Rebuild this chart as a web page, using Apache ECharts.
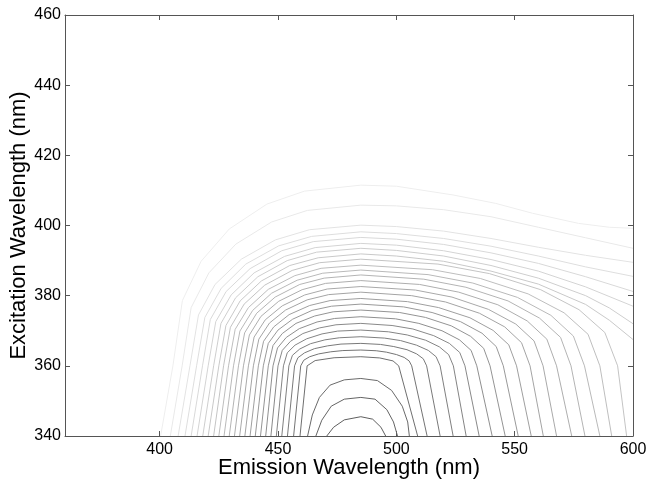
<!DOCTYPE html>
<html><head><meta charset="utf-8">
<script src="https://cdn.jsdelivr.net/npm/echarts@6/dist/echarts.min.js"></script>
<style>html,body{margin:0;padding:0;background:#fff}#c{width:648px;height:485px}</style>
</head><body><div id="c"></div>
<script>
// Axis ticks
const xTicks = [400, 450, 500, 550, 600];
const yTicks = [340, 360, 380, 400, 420, 440, 460];

// Contour lines [emission nm, excitation nm], innermost (highest level) first
const contour01 = [[470.6,340],[473.5,342.5],[478,344.6],[485,345.5],[490,344.8],[493.5,342.5],[495.5,340]];
const contour02 = [[466,340],[468.5,344.5],[472.5,348.5],[478,350.5],[485,351],[491,350.5],[496,347.5],[498.8,344],[500.5,340]];
const contour03 = [[462.5,340],[464.5,346],[467.5,351],[472,354.5],[478,356],[485,356.4],[492,355.8],[498,353],[502.5,348.5],[504.8,344],[505.5,340]];
const contour04 = [[459.3,340],[462.3,360],[465.7,361.5],[473.7,362.3],[485,362.6],[493,362.25],[498.6,361.4],[501,360],[509,340]];
const contour05 = [[456.6,340],[459.6,360],[460.9,361.6],[463.4,362.6],[467.2,363.4],[472.3,364.0],[477.4,364.35],[485,364.5],[491.5,364.3],[495.8,363.9],[500.1,363.2],[503.3,362.4],[505.4,361.4],[506.5,360],[513,340]];
const contour06 = [[454.0,340],[457.0,360],[458.4,362.3],[461.2,363.7],[465.4,364.9],[471,365.7],[476.6,366.2],[485,366.4],[493.3,366.1],[498.9,365.5],[504.5,364.6],[508.6,363.4],[511.4,362.0],[512.8,360],[518.5,340]];
const contour07 = [[451.6,340],[454.6,360],[456.1,363.0],[459.2,364.8],[463.7,366.3],[469.8,367.4],[475.9,368.0],[485,368.3],[495.1,367.9],[501.8,367.2],[508.5,365.9],[513.5,364.4],[516.8,362.6],[518.5,360],[524,340]];
const contour08 = [[449.3,340],[452.3,360],[453.9,363.7],[457.2,365.9],[462.1,367.7],[468.6,369.1],[475.2,369.9],[485,370.2],[496.7,369.7],[504.6,368.8],[512.4,367.3],[518.2,365.4],[522.1,363.2],[524.1,360],[529.5,340]];
const contour09 = [[447.0,340],[450.0,360],[451.8,364.4],[455.3,367.0],[460.5,369.2],[467.5,370.8],[474.5,371.7],[485,372.1],[498.2,371.5],[507,370.5],[515.8,368.6],[522.4,366.4],[526.8,363.8],[529,360],[535,340]];
const contour10 = [[444.8,340],[447.9,360],[449.8,365.1],[453.5,368.1],[459.0,370.6],[466.5,372.5],[473.9,373.5],[485,374.0],[499.7,373.4],[509.5,372.1],[519.3,370.0],[526.7,367.4],[531.6,364.4],[534,360],[540.5,340]];
const contour11 = [[442.6,340],[445.9,360],[447.9,365.8],[451.8,369.2],[457.6,372.1],[465.5,374.2],[473.3,375.4],[485,375.9],[501.4,375.2],[512.3,373.8],[523.2,371.4],[531.4,368.4],[536.9,365.0],[539.6,360],[546,340]];
const contour12 = [[440.4,340],[443.8,360],[445.9,366.4],[450.0,370.2],[456.2,373.3],[464.4,375.8],[472.6,377.0],[485,377.6],[503.1,376.8],[515.1,375.2],[527.1,372.6],[536.2,369.3],[542.2,365.5],[545.2,360],[551.5,340]];
const contour13 = [[438.2,340],[441.7,360],[443.9,367.0],[448.2,371.1],[454.7,374.6],[463.4,377.2],[472.0,378.6],[485,379.2],[504.7,378.3],[517.9,376.6],[531.1,373.7],[540.9,370.1],[547.5,366.0],[550.8,360],[557,340]];
const contour14 = [[436.0,340],[439.6,360],[441.9,367.6],[446.4,372.2],[453.2,375.9],[462.3,378.8],[471.4,380.3],[485,381.0],[506.5,380.0],[520.8,378.2],[535.1,375.0],[545.8,371.1],[552.9,366.6],[556.5,360],[562.1,340]];
const contour15 = [[433.8,340],[437.5,360],[439.9,368.2],[444.6,373.1],[451.8,377.1],[461.3,380.2],[470.8,381.9],[485,382.6],[508.1,381.6],[523.5,379.6],[538.9,376.1],[550.5,371.9],[558.2,367.1],[562,360],[567.7,340]];
const contour16 = [[431.6,340],[435.4,360],[437.9,368.8],[442.8,374.1],[450.3,378.4],[460.2,381.7],[470.1,383.5],[485,384.3],[509.8,383.2],[526.4,381.0],[542.9,377.4],[555.3,372.8],[563.6,367.6],[567.7,360],[574.1,340]];
const contour17 = [[429.4,340],[433.3,360],[435.9,369.4],[441.0,375.0],[448.8,379.6],[459.2,383.2],[469.5,385.0],[485,385.9],[511.6,384.7],[529.4,382.4],[547.2,378.5],[560.5,373.6],[569.4,368.1],[573.8,360],[579.7,340]];
const contour18 = [[427.2,340],[431.2,360],[433.9,369.9],[439.3,375.8],[447.3,380.7],[458.1,384.4],[468.9,386.4],[485,387.3],[513.4,386.0],[532.3,383.6],[551.2,379.5],[565.3,374.4],[574.8,368.5],[579.5,360],[586,340]];
const contour19 = [[425.0,340],[429.1,360],[431.9,370.4],[437.5,376.6],[445.9,381.8],[457.1,385.7],[468.2,387.8],[485,388.7],[515.3,387.4],[535.5,384.9],[555.7,380.5],[570.9,375.1],[581,369.0],[586,360],[591,340]];
const contour20 = [[422.8,340],[427.0,360],[429.9,371.0],[435.7,377.6],[444.4,383.0],[456.0,387.2],[467.6,389.4],[485,390.4],[517.6,389.0],[539.3,386.3],[561,381.7],[577.2,376.0],[588.1,369.5],[593.5,360],[597.3,340]];
const contour21 = [[420.5,340],[425.0,360],[428.0,371.5],[434.0,378.5],[443.0,384.2],[455.0,388.6],[467.0,390.8],[485,391.9],[500,391.3],[520,389.8],[540,387],[560,383.3],[580,377.5],[590,373],[600,367.5]];
const contour22 = [[418.2,340],[422.8,360],[425.9,372.1],[432.1,379.4],[441.5,385.4],[453.9,390.0],[466.3,392.4],[485,393.5],[500,392.9],[520,391.3],[540,388.6],[560,385],[580,380],[590,376.5],[600,372]];
const contour23 = [[415.8,340],[420.5,360],[423.7,372.6],[430.2,380.2],[439.9,386.5],[452.8,391.2],[465.7,393.7],[485,394.9],[500,394.4],[520,392.8],[540,390.3],[560,387],[580,382.5],[600,377]];
const contour24 = [[413.3,340],[418.1,360],[421.4,373.2],[428.1,381.2],[438.2,387.7],[451.6,392.8],[464.9,395.4],[485,396.6],[500,396.1],[520,394.6],[540,392.2],[560,389.2],[580,385.4],[600,381.2]];
const contour25 = [[410.7,340],[415.6,360],[419.1,373.8],[426.0,382.1],[436.4,389.0],[450.3,394.2],[464.2,396.9],[485,398.2],[500,397.7],[520,396.3],[540,394.1],[560,391.3],[580,388.2],[600,385.5]];
const contour26 = [[407.8,340],[412.8,360],[416.4,374.5],[423.4,383.2],[434.5,390.4],[448.9,395.9],[463.3,398.8],[485,400.1],[500,399.7],[520,398.4],[540,396.3],[560,393.8],[580,391.5],[600,389.5]];
const contour27 = [[404.5,340],[409.5,360],[413.3,376.6],[420.8,386.5],[432.2,394.7],[447.3,401.0],[462.4,404.3],[485,405.8],[500,405.6],[520,404.5],[540,402.5],[560,399.5],[580,396.5],[600,393.5]];
const contour28 = [[400.4,340],[405.6,360],[409.6,378.6],[417.5,389.8],[429.4,399.0],[445.3,406.1],[461.2,409.8],[485,411.5],[500,411.2],[524,408.7],[542,406.3],[557.5,403.5],[577,400.6],[590,399.5],[600,399.2]];

const contours = [contour01,contour02,contour03,contour04,contour05,contour06,contour07,
  contour08,contour09,contour10,contour11,contour12,contour13,contour14,contour15,contour16,
  contour17,contour18,contour19,contour20,contour21,contour22,contour23,contour24,contour25,
  contour26,contour27,contour28];

const FONT = '"Liberation Sans", Arial, sans-serif';
const AXC = '#555';
function gray(i, n) {
  const v = Math.round(95 + i * (238 - 95) / (n - 1));
  return 'rgb(' + v + ',' + v + ',' + v + ')';
}

const chart = echarts.init(document.getElementById('c'), null, {renderer: 'canvas'});
const series = contours.map((d, i) => ({
  type: 'line', data: d, showSymbol: false, symbol: 'none', silent: true,
  animation: false, clip: true, z: 2 + contours.length - i,
  lineStyle: {width: 1, color: gray(i, contours.length)}
}));

const axisLineStyle = {show: true, onZero: false, lineStyle: {color: AXC, width: 1}};
chart.setOption({
  animation: false,
  backgroundColor: '#fff',
  grid: {left: 65, right: 15, top: 15, bottom: 49, containLabel: false, outerBoundsMode: 'none'},
  xAxis: [{
    type: 'value', min: 360, max: 600, position: 'bottom',
    axisLine: axisLineStyle,
    axisTick: {show: true, inside: true, length: 5, customValues: xTicks, lineStyle: {color: AXC}},
    axisLabel: {customValues: xTicks, color: '#000', fontSize: 16, fontFamily: FONT, margin: 6, showMinLabel: true, showMaxLabel: true},
    splitLine: {show: false},
    name: 'Emission Wavelength (nm)', nameLocation: 'middle', nameGap: 21, nameMoveOverlap: false,
    nameTextStyle: {fontSize: 22, color: '#000', fontFamily: FONT}
  }, {
    type: 'value', min: 360, max: 600, position: 'top',
    axisLine: axisLineStyle,
    axisTick: {show: true, inside: true, length: 5, customValues: xTicks, lineStyle: {color: AXC}},
    axisLabel: {show: false}, splitLine: {show: false}
  }],
  yAxis: [{
    type: 'value', min: 340, max: 460, interval: 20, position: 'left',
    axisLine: axisLineStyle,
    axisTick: {show: true, inside: true, length: 5, customValues: yTicks, lineStyle: {color: AXC}},
    axisLabel: {customValues: yTicks, color: '#000', fontSize: 16, fontFamily: FONT, margin: 4, showMinLabel: true, showMaxLabel: true},
    splitLine: {show: false},
    name: 'Excitation Wavelength (nm)', nameLocation: 'middle', nameGap: 35, nameMoveOverlap: false,
    nameTextStyle: {fontSize: 22, color: '#000', fontFamily: FONT}
  }, {
    type: 'value', min: 340, max: 460, interval: 20, position: 'right',
    axisLine: axisLineStyle,
    axisTick: {show: true, inside: true, length: 5, customValues: yTicks, lineStyle: {color: AXC}},
    axisLabel: {show: false}, splitLine: {show: false}
  }],
  series: series
});
</script>
</body></html>
